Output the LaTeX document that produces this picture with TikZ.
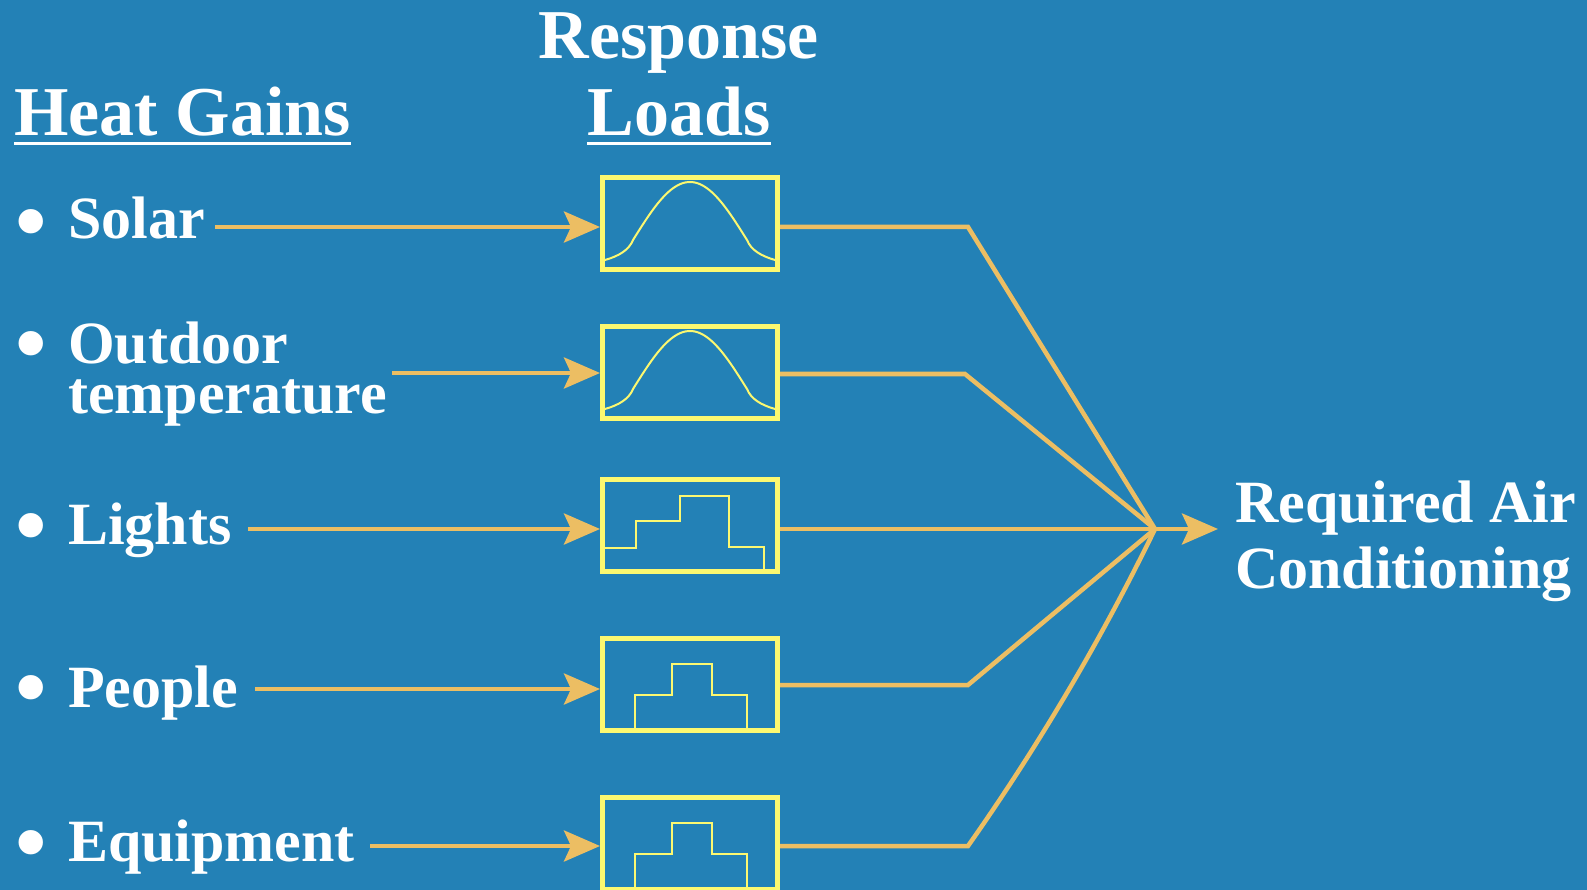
\documentclass[tikz,border=0pt]{standalone}
\usepackage{fontspec}
\setmainfont{Liberation Serif}
\usetikzlibrary{arrows.meta}

\definecolor{bg}{RGB}{35,129,182}
\definecolor{flow}{RGB}{236,190,99}
\definecolor{trace}{RGB}{252,248,112}

\begin{document}
\begin{tikzpicture}[x=1pt,y=-1pt,
  item/.style={text=white, font=\bfseries\fontsize{60}{50}\selectfont, inner sep=0pt, anchor=base west},
  bul/.style={text=white, font=\bfseries\fontsize{90}{90}\selectfont, inner sep=0pt},
  title/.style={text=white, font=\bfseries\fontsize{70}{70}\selectfont, inner sep=0pt},
  rule/.style={draw=white, line width=3pt},
  loadbox/.style={draw=trace, line width=5pt, minimum width=175pt, minimum height=92pt, inner sep=0pt},
  arr/.style={draw=flow, line width=4.5pt, -{Stealth[length=36pt,width=31pt,inset=7pt]}},
  feed/.style={draw=flow, line width=4.5pt, line join=miter},
  trend/.style={draw=trace, line width=2pt, line join=miter}
]
% background and page size
\fill[bg] (0,0) rectangle (1587,890);
\useasboundingbox (0,0) rectangle (1587,890);

% column headings
\node[title, anchor=base west] (gains) at (14,136) {Heat Gains};
\draw[rule] ([yshift=-8pt]gains.base west) -- ([yshift=-8pt]gains.base east);
\node[title, anchor=base] (resp) at (679,59) {Response};
\node[title, anchor=base] (loads) at (679,136) {Loads};
\draw[rule] ([yshift=-8pt]loads.base west) -- ([yshift=-8pt]loads.base east);

% heat gain list
\node[bul] (b1) at (31,231) {•};
\node[bul] (b2) at (31,353) {•};
\node[bul] (b3) at (31,535) {•};
\node[bul] (b4) at (31,697) {•};
\node[bul] (b5) at (31,852) {•};
\node[item] (solar) at (68,239) {Solar};
\node[item, align=left] (outdoor) at (68,413) {Outdoor\\temperature};
\node[item] (lights) at (68,544) {Lights};
\node[item] (people) at (68,707) {People};
\node[item] (equip) at (68,861) {Equipment};

% response load boxes
\node[loadbox] (box1) at (690,223.5) {};
\node[loadbox] (box2) at (690,372.5) {};
\node[loadbox] (box3) at (690,525.5) {};
\node[loadbox] (box4) at (690,684.5) {};
\node[loadbox] (box5) at (690,843.5) {};

% smooth response curves (solar, outdoor temperature)
\foreach \dy in {0,149} {
  \begin{scope}[shift={(0,\dy)}]
    \draw[trend] (605,260) .. controls (619,256) and (629,250) .. (633,240)
      -- plot[domain=0:180, samples=49] ({633+\x/180*114},{240-58*sin(\x)})
      -- (747,240) .. controls (751,250) and (761,256) .. (775,260);
  \end{scope}
}
% stepped response (lights)
\draw[trend] (605,548) -| (636,521) -| (680,496) -| (729,547) -| (764,570);
% stepped responses (people, equipment)
\foreach \dy in {0,159} {
  \begin{scope}[shift={(0,\dy)}]
    \draw[trend] (635,731) |- (672,695) |- (712,664) |- (747,695) -- (747,731);
  \end{scope}
}

% connector anchors
\coordinate (s1) at (215,227);
\coordinate (s2) at (392,373);
\coordinate (s3) at (248,529);
\coordinate (s4) at (255,689);
\coordinate (s5) at (370,846);
\coordinate (k1) at (968,227);
\coordinate (k2) at (965,374);
\coordinate (k4) at (968,685);
\coordinate (k5) at (968,846);
\coordinate (hub) at (1155,529);
\coordinate (out) at (1218,529);

% inputs
\draw[arr] (s1) -- (s1 -| box1.west);
\draw[arr] (s2) -- (s2 -| box2.west);
\draw[arr] (s3) -- (s3 -| box3.west);
\draw[arr] (s4) -- (s4 -| box4.west);
\draw[arr] (s5) -- (s5 -| box5.west);

% outputs merging into the total
\draw[feed] (k1 -| box1.east) -- (k1) -- (hub);
\draw[feed] (k2 -| box2.east) -- (k2) -- (hub);
\draw[feed] (hub -| box3.east) -- (hub);
\draw[feed] (k4 -| box4.east) -- (k4) -- (hub);
\draw[feed] (k5 -| box5.east) -- (k5) .. controls (1039,745) and (1101,640) .. (hub);
\draw[arr] (hub) -- (out);

% result
\node[item] (req) at (1235,522) {Required Air};
\node[item] (cond) at (1235,588) {Conditioning};
\end{tikzpicture}
\end{document}
